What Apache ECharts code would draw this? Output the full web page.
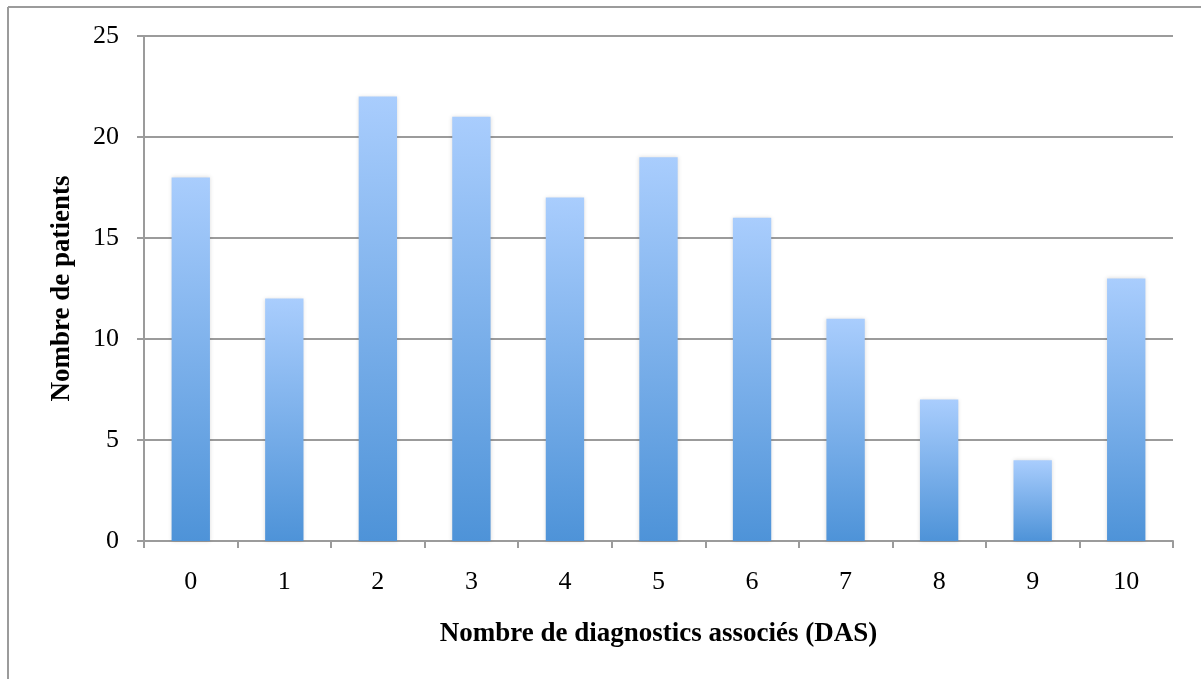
<!DOCTYPE html>
<html>
<head>
<meta charset="utf-8">
<script src="https://cdn.jsdelivr.net/npm/echarts@6/dist/echarts.min.js"></script>
<style>
html,body{margin:0;padding:0;background:#fff;}
#chart{width:1201px;height:679px;}
</style>
</head>
<body>
<div id="chart"></div>
<script>
const categories = ['0','1','2','3','4','5','6','7','8','9','10'];
const patients = [18, 12, 22, 21, 17, 19, 16, 11, 7, 4, 13];
const yTicks = { min: 0, max: 25, interval: 5 };
const xTitle = 'Nombre de diagnostics associés (DAS)';
const yTitle = 'Nombre de patients';

const chart = echarts.init(document.getElementById('chart'));
const font = '"Liberation Serif", "Times New Roman", serif';
chart.setOption({
  animation: false,
  backgroundColor: '#fff',
  graphic: [
    { type: 'line', shape: { x1: 8, y1: 7, x2: 1201, y2: 7 }, style: { stroke: '#9b9b9b', lineWidth: 2 } },
    { type: 'line', shape: { x1: 8, y1: 7, x2: 8, y2: 679 }, style: { stroke: '#9b9b9b', lineWidth: 2 } }
  ],
  grid: { left: 144, right: 28, top: 36, bottom: 138 },
  xAxis: {
    type: 'category',
    data: categories,
    name: xTitle,
    nameLocation: 'middle',
    nameGap: 80,
    nameTextStyle: { fontFamily: font, fontSize: 27, fontWeight: 'bold', color: '#000' },
    axisLine: { lineStyle: { color: '#9b9b9b', width: 2 } },
    axisTick: { show: true, length: 7, lineStyle: { color: '#9b9b9b', width: 2 } },
    axisLabel: { fontFamily: font, fontSize: 26, color: '#000', margin: 28 }
  },
  yAxis: {
    type: 'value',
    min: yTicks.min, max: yTicks.max, interval: yTicks.interval,
    name: yTitle,
    nameLocation: 'middle',
    nameGap: 68,
    nameRotate: 90,
    nameTextStyle: { fontFamily: font, fontSize: 27, fontWeight: 'bold', color: '#000' },
    axisLine: { show: true, lineStyle: { color: '#9b9b9b', width: 2 } },
    axisTick: { show: true, length: 7, lineStyle: { color: '#9b9b9b', width: 2 } },
    splitLine: { lineStyle: { color: '#9b9b9b', width: 2 } },
    axisLabel: { fontFamily: font, fontSize: 26, color: '#000', margin: 25 }
  },
  series: [{
    type: 'bar',
    data: patients,
    barWidth: '41%',
    itemStyle: {
      color: new echarts.graphic.LinearGradient(0, 0, 0, 1, [
        { offset: 0, color: '#a9cdfd' },
        { offset: 1, color: '#4e93d8' }
      ]),
      shadowColor: 'rgba(0,0,0,0.15)',
      shadowBlur: 4
    }
  }]
});
</script>
</body>
</html>
